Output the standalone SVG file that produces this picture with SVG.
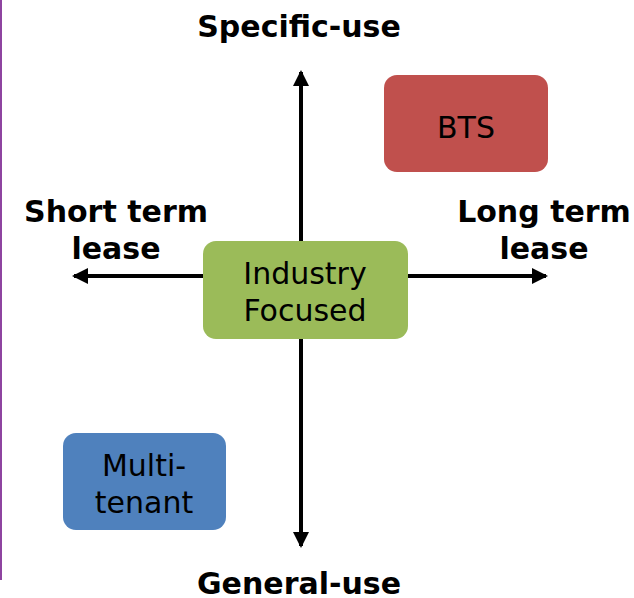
<svg xmlns="http://www.w3.org/2000/svg" width="634" height="598" viewBox="0 0 634 598">
<style>
.lbl{font-family:"DejaVu Sans","Verdana",sans-serif;font-weight:bold;font-size:30px;fill:#000;text-anchor:middle}
.nt{font-family:"DejaVu Sans","Verdana",sans-serif;font-size:30px;fill:#000;text-anchor:middle}
.ax{stroke:#000;stroke-width:4;fill:none}
</style>
<defs>
<marker id="ah" viewBox="0 0 16 16" refX="14" refY="8" markerWidth="16" markerHeight="16" markerUnits="userSpaceOnUse" orient="auto">
<path d="M0,0 L16,8 L0,16 Z" fill="#000"/>
</marker>
</defs>
<rect width="634" height="598" fill="#fff"/>
<line x1="1" y1="0" x2="1" y2="580" stroke="#8e44a0" stroke-width="2"/>
<g id="connectors">
<line class="ax" x1="301" y1="276" x2="301" y2="72" marker-end="url(#ah)"/>
<line class="ax" x1="301" y1="276" x2="301" y2="546" marker-end="url(#ah)"/>
<line class="ax" x1="301" y1="276" x2="74" y2="276" marker-end="url(#ah)"/>
<line class="ax" x1="301" y1="276" x2="546" y2="276" marker-end="url(#ah)"/>
</g>
<g id="labels">
<text class="lbl" x="299" y="37">Specific-use</text>
<text class="lbl" x="299" y="594">General-use</text>
<text class="lbl" x="116" y="222">Short term</text>
<text class="lbl" x="116" y="259">lease</text>
<text class="lbl" x="544" y="222">Long term</text>
<text class="lbl" x="544" y="259">lease</text>
</g>
<g id="industry">
<rect x="203" y="241" width="205" height="98" rx="13" fill="#9bbb59"/>
<text class="nt" x="305" y="284">Industry</text>
<text class="nt" x="305" y="321">Focused</text>
</g>
<g id="bts">
<rect x="384" y="75" width="164" height="97" rx="13" fill="#c0504d"/>
<text class="nt" x="466" y="138">BTS</text>
</g>
<g id="multitenant">
<rect x="63" y="433" width="163" height="97" rx="13" fill="#4f81bd"/>
<text class="nt" x="144" y="476">Multi-</text>
<text class="nt" x="144" y="513">tenant</text>
</g>
</svg>
